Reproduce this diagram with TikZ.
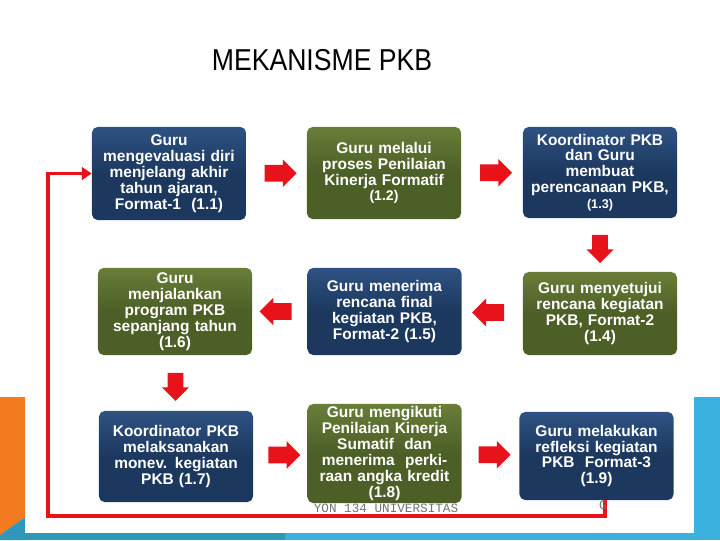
\documentclass[tikz,border=0pt]{standalone}
\usepackage{fontspec}
\setmainfont{Liberation Sans}
\setmonofont{Liberation Mono}
\usepackage{tikz}
\usetikzlibrary{positioning,arrows.meta,shapes.arrows,calc}
\definecolor{navy}{HTML}{1C385E}
\definecolor{navytop}{HTML}{2E5283}
\definecolor{olive}{HTML}{4C5F27}
\definecolor{olivetop}{HTML}{687E38}
\definecolor{flow}{HTML}{E8121B}
\definecolor{orng}{HTML}{F47A20}
\definecolor{teal}{HTML}{3197BA}
\definecolor{sky}{HTML}{3AB1DE}
\tikzset{
  box/.style     ={rounded corners=4pt, minimum width=3.85cm, text width=3.7cm, align=center, inner sep=1pt,
                   text=white, font=\bfseries\fontsize{11}{11.3}\selectfont},
  bluebox/.style ={box, top color=navytop, bottom color=navy, middle color=navy},
  greenbox/.style={box, top color=olivetop, bottom color=olive, middle color=olive},
  blockarr/.style={single arrow, fill=flow, draw=none, minimum height=0.8cm, minimum width=0.68cm,
                   single arrow head extend=0.14cm, inner xsep=0pt, inner ysep=0.2cm},
  downarr/.style ={blockarr, shape border rotate=270, minimum height=0.7cm, inner xsep=0.19cm, inner ysep=0pt},
  feedback/.style={-{Triangle[length=7pt,width=9pt]}, line width=2.8pt, flow},
  wmark/.style   ={font=\ttfamily\fontsize{9}{9}\selectfont, text=black!55, inner sep=0pt},
}
\begin{document}
\begin{tikzpicture}[x=0.025cm,y=-0.025cm]
  \useasboundingbox (0,0) rectangle (720,540);
  % background
  \fill[orng] (0,397) -- (25,397) -- (25,517) -- (0,535) -- cycle;
  \fill[teal] (0,535) -- (25,517) -- (25,540) -- (0,540) -- cycle;
  \fill[teal] (25,533) rectangle (285,540);
  \fill[sky] (285,533) rectangle (720,540);
  \fill[sky] (694,397) rectangle (720,540);

  \node (title) at (322,60) {\scalebox{0.88}[1]{\fontsize{21.5}{24}\selectfont MEKANISME PKB}};

  % row 1
  \node[bluebox,  minimum height=2.325cm] (eval)     at (169,173.5) {Guru\\mengevaluasi diri\\menjelang akhir\\tahun ajaran,\\Format-1~ (1.1)};
  \node[greenbox, minimum height=2.3cm]   (formatif) at (384,173)   {Guru melalui\\proses Penilaian\\Kinerja Formatif\\{\fontsize{10}{11.3}\selectfont (1.2)}};
  \node[bluebox,  minimum height=2.275cm] (rencana)  at (600,172.5) {Koordinator PKB\\dan Guru\\membuat\\perencanaan PKB,\\{\fontsize{9}{11.3}\selectfont (1.3)}};
  % row 2
  \node[greenbox, minimum height=2.075cm] (setuju)   at (600,313.5) {Guru menyetujui\\rencana kegiatan\\PKB, Format-2\\(1.4)};
  \node[bluebox,  minimum height=2.175cm] (final)    at (384.5,311.5) {Guru menerima\\rencana final\\kegiatan PKB,\\Format-2 (1.5)};
  \node[greenbox, minimum height=2.175cm] (jalan)    at (175,311.5) {Guru\\menjalankan\\program PKB\\sepanjang tahun\\(1.6)};
  % row 3
  \node[bluebox,  minimum height=2.275cm] (monev)    at (176,456.5) {Koordinator PKB\\melaksanakan\\monev. kegiatan\\PKB (1.7)};
  \node[greenbox, minimum height=2.475cm] (sumatif)  at (384.5,453.5) {Guru mengikuti\\Penilaian Kinerja\\Sumatif~ dan\\menerima~ perki-\\raan angka kredit\\(1.8)};
  \node[bluebox,  minimum height=2.2cm]   (refleksi) at (596.5,456) {Guru melakukan\\refleksi kegiatan\\PKB~ Format-3\\(1.9)};

  % block arrows
  \node[blockarr] (a1) at ($(eval.east)!0.5!(formatif.west)$) {};
  \node[blockarr] (a2) at ($(formatif.east)!0.5!(rencana.west)$) {};
  \node[downarr]  (a3) at ($(rencana.south)!0.5!(setuju.north)$) {};
  \node[blockarr, shape border rotate=180] (a4) at ($(setuju.west)!0.5!(final.east)$) {};
  \node[blockarr, shape border rotate=180] (a5) at ($(final.west)!0.5!(jalan.east)$) {};
  \node[downarr]  (a6) at ($(jalan.south)!0.5!(monev.north)$) {};
  \node[blockarr] (a7) at ($(monev.east)!0.5!(sumatif.west)$) {};
  \node[blockarr] (a8) at ($(sumatif.east)!0.5!(refleksi.west)$) {};

  % loop back
  \coordinate (corner) at (48,516);
  \draw[feedback] ([xshift=0.22cm]refleksi.south) |- (corner) |- (eval.west);

  \node[wmark] (wm) at (386,508) {YON 134 UNIVERSITAS};
  \node[wmark] (wmg) at (603,505) {G};
\end{tikzpicture}
\end{document}
